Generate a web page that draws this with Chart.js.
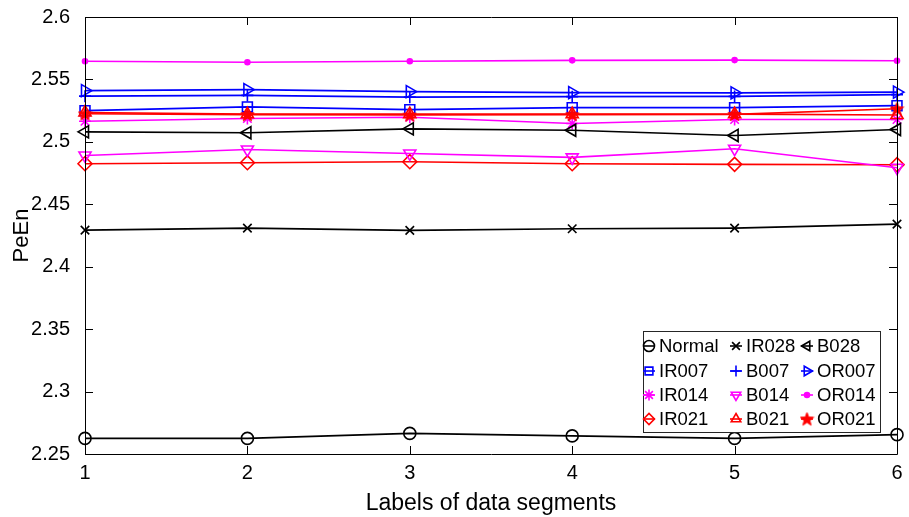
<!DOCTYPE html>
<html>
<head>
<meta charset="utf-8">
<script src="https://cdn.jsdelivr.net/npm/chart.js@4.4.0/dist/chart.umd.min.js"></script>
<style>
  html, body { margin: 0; padding: 0; background: #fff; }
  #wrap { width: 909px; height: 517px; }
</style>
</head>
<body>
<div id="wrap"><canvas id="peenChart" width="909" height="517"></canvas></div>
<script>
// segment labels on the x axis
const segments = ['1', '2', '3', '4', '5', '6'];
const yTicks = [2.25, 2.3, 2.35, 2.4, 2.45, 2.5, 2.55, 2.6];

// PeEn values per fault class
const normal = [2.2625, 2.2625, 2.2665, 2.2645, 2.2625, 2.2655];
const ir007 = [2.525, 2.528, 2.5258, 2.5274, 2.5274, 2.529];
const ir014 = [2.5165, 2.5187, 2.5197, 2.5147, 2.5179, 2.5179];
const ir021 = [2.4825, 2.4833, 2.4841, 2.4825, 2.482, 2.4817];
const ir028 = [2.4293, 2.4309, 2.4291, 2.4304, 2.4309, 2.4341];
const b007 = [2.5366, 2.5372, 2.5358, 2.5362, 2.5364, 2.5378];
const b014 = [2.4891, 2.4939, 2.4907, 2.4876, 2.4945, 2.4793];
const b021 = [2.5235, 2.5222, 2.5222, 2.5222, 2.5222, 2.5215];
const b028 = [2.508, 2.5073, 2.5104, 2.5093, 2.5051, 2.5099];
const or007 = [2.541, 2.5418, 2.5402, 2.5394, 2.5392, 2.5398];
const or014 = [2.5645, 2.5637, 2.5645, 2.5653, 2.5655, 2.565];
const or021 = [2.5225, 2.5218, 2.5215, 2.5218, 2.522, 2.5265];

const FONT = "'Liberation Sans', Arial, sans-serif";

// filled five-pointed star marker (not built into Chart.js)
function makeStar(color, size) {
    const c = document.createElement('canvas');
    c.width = size; c.height = size;
    const g = c.getContext('2d');
    const cx = size / 2, cy = size / 2 + 0.5;
    const ro = size / 2 - 0.5, ri = ro * 0.42;
    g.beginPath();
    for (let i = 0; i < 10; i++) {
        const r = i % 2 === 0 ? ro : ri;
        const a = -Math.PI / 2 + i * Math.PI / 5;
        g.lineTo(cx + r * Math.cos(a), cy + r * Math.sin(a));
    }
    g.closePath();
    g.fillStyle = color;
    g.fill();
    g.strokeStyle = color;
    g.lineWidth = 1;
    g.stroke();
    return c;
}
const starRed = makeStar('#ff0000', 15);

function series(label, data, color, style, radius, rotation, fill) {
    return {
        label: label,
        data: data,
        borderColor: color,
        backgroundColor: fill ? color : 'rgba(0,0,0,0)',
        pointBorderColor: color,
        pointBackgroundColor: fill ? color : 'rgba(0,0,0,0)',
        borderWidth: 1.6,
        pointBorderWidth: 1.6,
        pointStyle: style,
        pointRadius: radius,
        pointHoverRadius: radius,
        pointRotation: rotation || 0,
        tension: 0,
        fill: false,
        clip: false
    };
}

const datasets = [
    series('Normal', normal, '#000000', 'circle', 6),
    series('IR007', ir007, '#0000ff', 'rect', 7),
    series('IR014', ir014, '#ff00ff', 'star', 6),
    series('IR021', ir021, '#ff0000', 'rectRot', 7),
    series('IR028', ir028, '#000000', 'crossRot', 6),
    series('B007', b007, '#0000ff', 'cross', 6),
    series('B014', b014, '#ff00ff', 'triangle', 7, 180),
    series('B021', b021, '#ff0000', 'triangle', 7),
    series('B028', b028, '#000000', 'triangle', 7, -90),
    series('OR007', or007, '#0000ff', 'triangle', 7, 90),
    series('OR014', or014, '#ff00ff', 'circle', 2.5, 0, true),
    series('OR021', or021, '#ff0000', starRed, 7)
];
// later series drawn on top
datasets.forEach((d, i) => { d.order = datasets.length - 1 - i; });

// box around the plot with inward ticks on all four sides
const frameTicks = {
    id: 'frameTicks',
    afterDraw(chart) {
        const ctx = chart.ctx;
        const a = chart.chartArea;
        const xs = chart.scales.x, ys = chart.scales.y;
        const len = 8;
        ctx.save();
        ctx.strokeStyle = '#000';
        ctx.lineWidth = 1;
        ctx.beginPath();
        ctx.rect(Math.round(a.left) + 0.5, Math.round(a.top) + 0.5,
            Math.round(a.right - a.left), Math.round(a.bottom - a.top));
        segments.forEach((s, i) => {
            const px = Math.round(xs.getPixelForValue(i)) + 0.5;
            ctx.moveTo(px, a.bottom); ctx.lineTo(px, a.bottom - len);
            ctx.moveTo(px, a.top); ctx.lineTo(px, a.top + len);
        });
        yTicks.forEach(v => {
            const py = Math.round(ys.getPixelForValue(v)) + 0.5;
            ctx.moveTo(a.left, py); ctx.lineTo(a.left + len, py);
            ctx.moveTo(a.right, py); ctx.lineTo(a.right - len, py);
        });
        ctx.stroke();
        ctx.restore();
    }
};

// MATLAB-like legend box, 3 columns filled column by column
const boxLegend = {
    id: 'boxLegend',
    afterDraw(chart) {
        const ctx = chart.ctx;
        const a = chart.chartArea;
        const right = a.right - 17, bottom = a.bottom - 22;
        const left = right - 237, top = bottom - 101;
        const rowY = [15, 40, 64, 88];
        const colX = [left + 6, left + 93, left + 164];
        ctx.save();
        ctx.fillStyle = '#fff';
        ctx.fillRect(left, top, right - left, bottom - top);
        ctx.strokeStyle = '#262626';
        ctx.lineWidth = 1;
        ctx.strokeRect(Math.round(left) + 0.5, Math.round(top) + 0.5, Math.round(right - left), Math.round(bottom - top));
        ctx.font = '18.5px ' + FONT;
        ctx.textBaseline = 'middle';
        ctx.textAlign = 'left';
        chart.data.datasets.forEach((d, i) => {
            const col = Math.floor(i / 4), row = i % 4;
            const cx = colX[col], y = top + rowY[row];
            ctx.strokeStyle = d.borderColor;
            ctx.fillStyle = d.pointBackgroundColor;
            ctx.lineWidth = 1.6;
            ctx.beginPath();
            ctx.moveTo(cx - 6, y); ctx.lineTo(cx + 6, y);
            ctx.stroke();
            Chart.helpers.drawPoint(ctx, {
                pointStyle: d.pointStyle,
                rotation: d.pointRotation,
                radius: Math.min(d.pointRadius, 5.5),
                borderWidth: 1.5
            }, cx, y);
            ctx.fillStyle = '#000';
            ctx.fillText(d.label, cx + 10, y + 1);
        });
        ctx.restore();
    }
};

new Chart(document.getElementById('peenChart'), {
    type: 'line',
    data: { labels: segments, datasets: datasets },
    options: {
        responsive: false,
        animation: false,
        devicePixelRatio: 1,
        layout: { padding: { left: 0, right: 12, top: 17, bottom: 0 } },
        plugins: {
            legend: { display: false },
            tooltip: { enabled: false }
        },
        scales: {
            x: {
                offset: false,
                grid: { display: false, drawTicks: false },
                border: { display: false },
                ticks: { color: '#000', font: { family: FONT, size: 20 }, padding: 7, maxRotation: 0 },
                title: { display: true, text: 'Labels of data segments', color: '#000', font: { family: FONT, size: 23 }, padding: { top: 0, bottom: 0 } },
                afterFit(scale) {
                    scale.height = 63;
                    scale.paddingLeft = 0;
                    scale.paddingRight = 0;
                }
            },
            y: {
                min: 2.25,
                max: 2.6,
                grid: { display: false, drawTicks: false },
                border: { display: false },
                afterBuildTicks(scale) { scale.ticks = yTicks.map(v => ({ value: v })); },
                ticks: {
                    color: '#000',
                    font: { family: FONT, size: 20 },
                    padding: 15,
                    callback: v => String(Math.round(v * 100) / 100)
                },
                title: { display: true, text: 'PeEn', color: '#000', font: { family: FONT, size: 22 }, padding: { top: 9, bottom: 0 } },
                afterFit(scale) {
                    scale.width = 85;
                    scale.paddingTop = 0;
                    scale.paddingBottom = 0;
                }
            }
        }
    },
    plugins: [frameTicks, boxLegend]
});
</script>
</body>
</html>
